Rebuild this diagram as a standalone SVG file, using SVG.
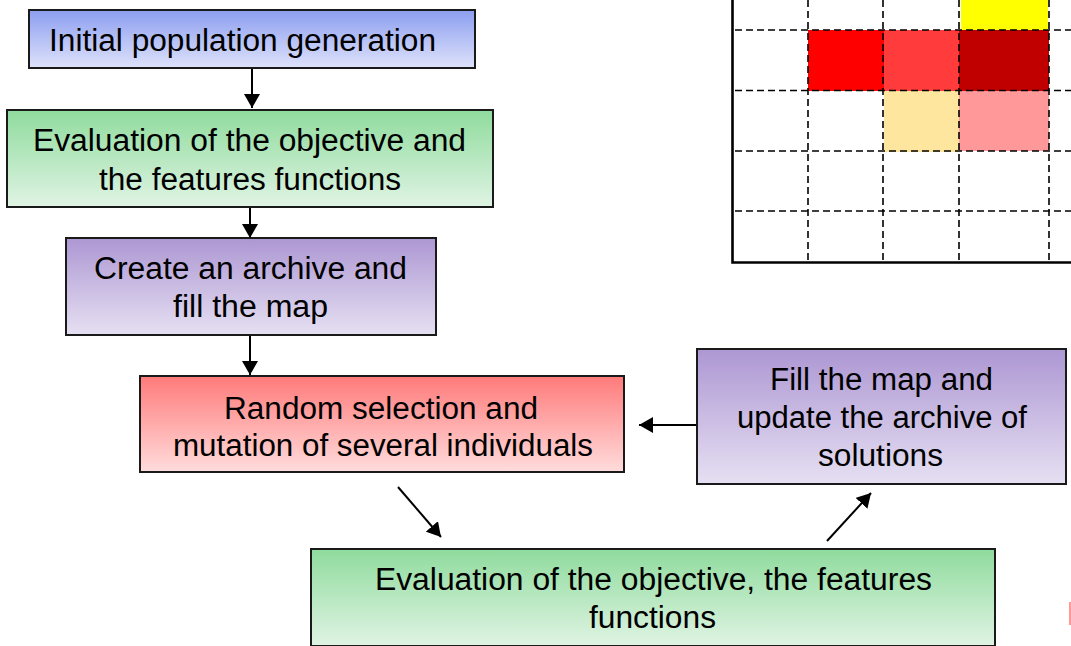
<svg xmlns="http://www.w3.org/2000/svg" width="1071" height="646" viewBox="0 0 1071 646">
<style>
.box{stroke:#1a1a1a;stroke-width:2}
.t{font-family:"Liberation Sans",Arial,sans-serif;font-size:31px;fill:#000}
.con{stroke:#000;stroke-width:2;fill:none;marker-end:url(#ah)}
.dash{stroke:#000;stroke-width:1.6;stroke-dasharray:7 4;fill:none}
.axis{stroke:#000;stroke-width:2.6;fill:none}
</style>
<defs>
<linearGradient id="gBlue" x1="0" y1="0" x2="0" y2="1"><stop offset="0" stop-color="#8C9EF0"/><stop offset="1" stop-color="#DEE2FA"/></linearGradient>
<linearGradient id="gGreen" x1="0" y1="0" x2="0" y2="1"><stop offset="0" stop-color="#8FDB9D"/><stop offset="1" stop-color="#E0F4E4"/></linearGradient>
<linearGradient id="gPurple" x1="0" y1="0" x2="0" y2="1"><stop offset="0" stop-color="#AD97D3"/><stop offset="1" stop-color="#E6E0F2"/></linearGradient>
<linearGradient id="gRed" x1="0" y1="0" x2="0" y2="1"><stop offset="0" stop-color="#FF7A7A"/><stop offset="1" stop-color="#FFDCDC"/></linearGradient>
<marker id="ah" viewBox="0 0 14 16" refX="14" refY="8" markerWidth="14" markerHeight="16" markerUnits="userSpaceOnUse" orient="auto"><path d="M0,0 L14,8 L0,16 Z" fill="#000"/></marker>
</defs>

<g id="map">
<rect x="961" y="0" width="87" height="30" fill="#FFFF00"/>
<rect x="808" y="30" width="76" height="61" fill="#FF0000"/>
<rect x="884" y="30" width="75" height="61" fill="#FF3B3B"/>
<rect x="959" y="30" width="90" height="61" fill="#C00000"/>
<rect x="884" y="91" width="75" height="61" fill="#FFE69F"/>
<rect x="959" y="91" width="90" height="60" fill="#FF9999"/>
<path class="dash" d="M808,0V262 M883,0V262 M959,0V262 M1049,0V262"/>
<path class="dash" d="M735,30H1071 M735,90.5H1071 M735,151H1071 M735,211H1071"/>
<path class="axis" d="M732.5,0V262.5H1071"/>
<rect x="1069" y="602" width="2" height="23" fill="#FF9999"/>
</g>

<g id="connectors">
<path class="con" d="M252,68V108"/>
<path class="con" d="M250,207V238"/>
<path class="con" d="M250,335V375"/>
<path class="con" d="M697,425H639"/>
<path class="con" d="M398,487L441,537"/>
<path class="con" d="M827,541L871,493"/>
</g>

<g id="n1">
<rect class="box" x="29" y="10" width="446" height="58" fill="url(#gBlue)"/>
<text class="t" x="49" y="51" textLength="387" lengthAdjust="spacingAndGlyphs">Initial population generation</text>
</g>
<g id="n2">
<rect class="box" x="7" y="110" width="486" height="97" fill="url(#gGreen)"/>
<text class="t" x="33" y="151" textLength="433" lengthAdjust="spacingAndGlyphs">Evaluation of the objective and</text>
<text class="t" x="99" y="190" textLength="302" lengthAdjust="spacingAndGlyphs">the features functions</text>
</g>
<g id="n3">
<rect class="box" x="66" y="238" width="370" height="97" fill="url(#gPurple)"/>
<text class="t" x="94" y="279" textLength="313" lengthAdjust="spacingAndGlyphs">Create an archive and</text>
<text class="t" x="173" y="317" textLength="155" lengthAdjust="spacingAndGlyphs">fill the map</text>
</g>
<g id="n4">
<rect class="box" x="140" y="376" width="484" height="96" fill="url(#gRed)"/>
<text class="t" x="224" y="419" textLength="314" lengthAdjust="spacingAndGlyphs">Random selection and</text>
<text class="t" x="173" y="456" textLength="420" lengthAdjust="spacingAndGlyphs">mutation of several individuals</text>
</g>
<g id="n5">
<rect class="box" x="697" y="349" width="369" height="135" fill="url(#gPurple)"/>
<text class="t" x="770" y="390" textLength="223" lengthAdjust="spacingAndGlyphs">Fill the map and</text>
<text class="t" x="737" y="428" textLength="290" lengthAdjust="spacingAndGlyphs">update the archive of</text>
<text class="t" x="818" y="466" textLength="125" lengthAdjust="spacingAndGlyphs">solutions</text>
</g>
<g id="n6">
<rect class="box" x="311" y="549" width="684" height="97" fill="url(#gGreen)"/>
<text class="t" x="375" y="590" textLength="557" lengthAdjust="spacingAndGlyphs">Evaluation of the objective, the features</text>
<text class="t" x="589" y="628" textLength="127" lengthAdjust="spacingAndGlyphs">functions</text>
</g>
</svg>
